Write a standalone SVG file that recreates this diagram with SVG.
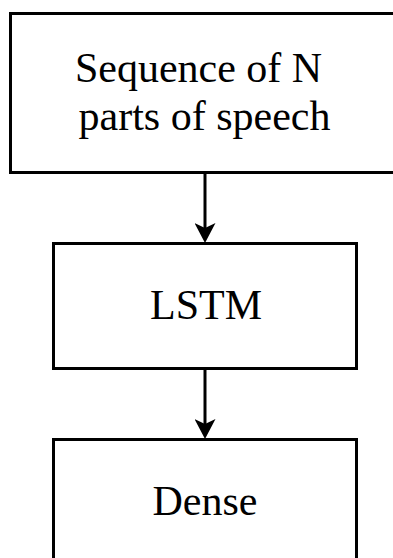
<svg xmlns="http://www.w3.org/2000/svg" width="393" height="558" viewBox="0 0 393 558">
  <style>
    .box { fill: #ffffff; stroke: #000000; stroke-width: 3; }
    .lbl { font-family: "Liberation Serif", "Times New Roman", serif; font-size: 42px; fill: #000000; text-anchor: middle; }
    .edge { fill: none; stroke: #000000; stroke-width: 3; }
  </style>
  <defs>
    <marker id="arrow" viewBox="0 0 20 21" refX="5" refY="10.5" markerWidth="20" markerHeight="21" markerUnits="userSpaceOnUse" orient="auto">
      <path d="M0,0 L20,10.5 L0,21 L5,10.5 Z" fill="#000000"/>
    </marker>
  </defs>
  <rect width="393" height="558" fill="#ffffff"/>
  <g id="connectors">
    <line class="edge" x1="205" y1="172" x2="205" y2="228" marker-end="url(#arrow)"/>
    <line class="edge" x1="205" y1="368" x2="205" y2="424" marker-end="url(#arrow)"/>
  </g>
  <g id="node-sequence">
    <rect class="box" x="10.5" y="13.5" width="389" height="159"/>
    <text class="lbl" x="198.5" y="81.5">Sequence of N</text>
    <text class="lbl" x="204.5" y="130">parts of speech</text>
  </g>
  <g id="node-lstm">
    <rect class="box" x="53.5" y="243.5" width="303" height="125"/>
    <text class="lbl" x="206" y="318.5">LSTM</text>
  </g>
  <g id="node-dense">
    <rect class="box" x="53.5" y="439.5" width="303" height="125"/>
    <text class="lbl" x="205" y="515">Dense</text>
  </g>
</svg>
